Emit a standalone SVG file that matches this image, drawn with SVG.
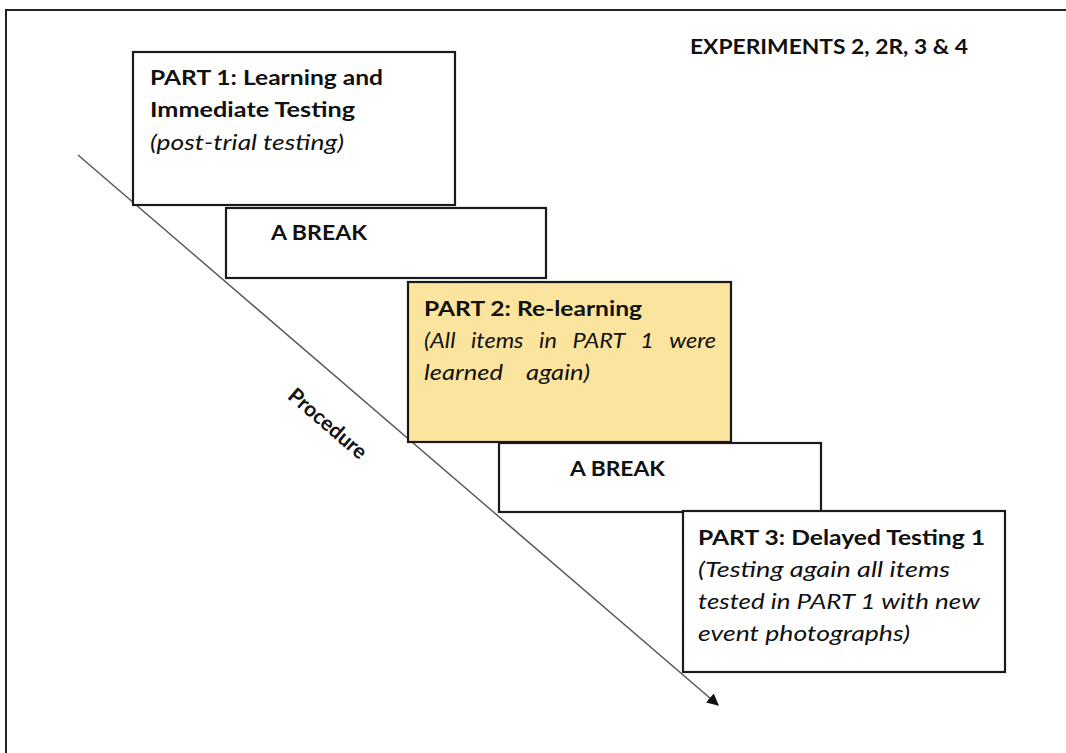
<svg xmlns="http://www.w3.org/2000/svg" width="1066" height="753" viewBox="0 0 1066 753">
  <style>
    .frame { fill: none; stroke: #222; stroke-width: 2; }
    .box { fill: #ffffff; stroke: #1a1a1a; stroke-width: 2.2; }
    .box.hl { fill: #fbe49e; }
    .t { font-family: Lato, "Open Sans", "Liberation Sans", sans-serif; fill: #111; font-size: 21px; }
    .b { font-weight: bold; }
    .i { font-style: italic; }
    .axis { stroke: #555; stroke-width: 1.4; fill: none; }
  </style>
  <defs>
    <marker id="arrow" viewBox="0 0 10 10" refX="9" refY="5" markerWidth="12" markerHeight="12" markerUnits="userSpaceOnUse" orient="auto">
      <path d="M0,0 L10,5 L0,10 z" fill="#111"/>
    </marker>
  </defs>

  <rect width="1066" height="753" fill="#ffffff"/>
  <!-- outer frame -->
  <path class="frame" d="M6,760 L6,10 L1070,10"/>

  <text class="t b" x="690" y="54" font-size="19" textLength="278" lengthAdjust="spacingAndGlyphs">EXPERIMENTS 2, 2R, 3 &amp; 4</text>

  <!-- procedure axis -->
  <g id="connectors">
    <line class="axis" x1="78" y1="155" x2="718" y2="705" marker-end="url(#arrow)"/>
  </g>

  <g id="part1">
    <rect class="box" x="133" y="52" width="322" height="153"/>
    <text class="t b" x="150" y="85" textLength="233" lengthAdjust="spacingAndGlyphs">PART 1: Learning and</text>
    <text class="t b" x="150" y="117" textLength="205" lengthAdjust="spacingAndGlyphs">Immediate Testing</text>
    <text class="t i" x="150" y="150" textLength="194" lengthAdjust="spacingAndGlyphs">(post-trial testing)</text>
  </g>

  <g id="break1">
    <rect class="box" x="226" y="208" width="320" height="70"/>
    <text class="t b" x="271" y="240" textLength="96" lengthAdjust="spacingAndGlyphs">A BREAK</text>
  </g>

  <g id="part2">
    <rect class="box hl" x="408" y="282" width="323" height="160"/>
    <text class="t b" x="424" y="316" textLength="218" lengthAdjust="spacingAndGlyphs">PART 2: Re-learning</text>
    <!-- justified body: wide word gaps, stretched to the box width -->
    <text class="t i" x="424" y="348" word-spacing="9" textLength="292" lengthAdjust="spacingAndGlyphs">(All items in PART 1 were</text>
    <text class="t i" x="424" y="380" word-spacing="14" textLength="166" lengthAdjust="spacingAndGlyphs">learned again)</text>
  </g>

  <g id="break2">
    <rect class="box" x="499" y="443" width="322" height="69"/>
    <text class="t b" x="570" y="476" textLength="95" lengthAdjust="spacingAndGlyphs">A BREAK</text>
  </g>

  <g id="part3">
    <rect class="box" x="683" y="511" width="322" height="161"/>
    <text class="t b" x="698" y="545" textLength="287" lengthAdjust="spacingAndGlyphs">PART 3: Delayed Testing 1</text>
    <text class="t i" x="698" y="577" textLength="252" lengthAdjust="spacingAndGlyphs">(Testing again all items</text>
    <text class="t i" x="698" y="609" textLength="282" lengthAdjust="spacingAndGlyphs">tested in PART 1 with new</text>
    <text class="t i" x="698" y="641" textLength="212" lengthAdjust="spacingAndGlyphs">event photographs)</text>
  </g>

  <g id="procedure-label">
    <text class="t b" font-size="22" transform="translate(323,429) rotate(40.7)" text-anchor="middle">Procedure</text>
  </g>
</svg>
